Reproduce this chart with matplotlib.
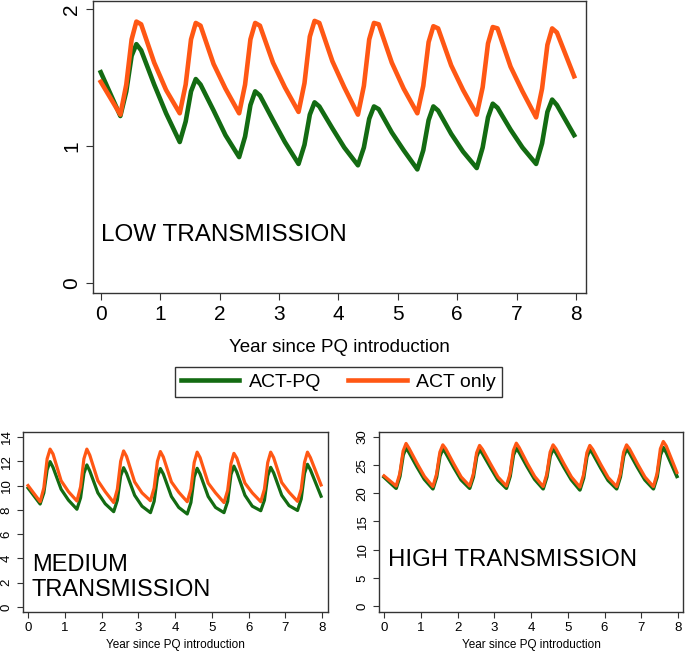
import matplotlib
matplotlib.use("Agg")
import matplotlib.pyplot as plt

plt.rcParams['font.family'] = ['Liberation Sans', 'DejaVu Sans']

# time points (years since PQ introduction)
t = [0.0,
     0.33, 0.43, 0.52, 0.60, 0.68, 0.90, 1.10,
     1.33, 1.43, 1.52, 1.60, 1.68, 1.90, 2.10,
     2.33, 2.43, 2.52, 2.60, 2.68, 2.90, 3.10,
     3.33, 3.43, 3.52, 3.60, 3.68, 3.90, 4.10,
     4.33, 4.43, 4.52, 4.60, 4.68, 4.90, 5.10,
     5.33, 5.43, 5.52, 5.60, 5.68, 5.90, 6.10,
     6.33, 6.43, 6.52, 6.60, 6.68, 6.90, 7.10,
     7.33, 7.43, 7.52, 7.60, 7.68, 7.97]

# low transmission
low_pq = [1.54,
          1.22, 1.40, 1.66, 1.745, 1.70, 1.45, 1.24,
          1.03, 1.18, 1.40, 1.49, 1.45, 1.26, 1.08,
          0.92, 1.07, 1.30, 1.40, 1.37, 1.19, 1.03,
          0.87, 1.01, 1.23, 1.32, 1.29, 1.13, 0.99,
          0.86, 0.99, 1.20, 1.29, 1.27, 1.10, 0.97,
          0.83, 0.97, 1.19, 1.29, 1.26, 1.09, 0.96,
          0.84, 0.99, 1.21, 1.31, 1.28, 1.12, 0.99,
          0.87, 1.02, 1.25, 1.34, 1.30, 1.08]
low_act = [1.47,
           1.23, 1.45, 1.78, 1.91, 1.89, 1.61, 1.41,
           1.24, 1.45, 1.78, 1.90, 1.88, 1.60, 1.42,
           1.24, 1.45, 1.78, 1.90, 1.88, 1.61, 1.43,
           1.25, 1.46, 1.80, 1.915, 1.90, 1.62, 1.43,
           1.23, 1.44, 1.78, 1.90, 1.89, 1.61, 1.42,
           1.24, 1.44, 1.76, 1.876, 1.86, 1.59, 1.41,
           1.23, 1.43, 1.75, 1.87, 1.86, 1.58, 1.40,
           1.21, 1.42, 1.74, 1.86, 1.83, 1.51]

# medium transmission
med_pq = [9.8,
          8.48, 9.4, 11.3, 11.97, 11.5, 9.7, 8.8,
          8.05, 9.0, 11.0, 11.7, 11.2, 9.4, 8.5,
          7.85, 8.8, 10.8, 11.47, 11.0, 9.2, 8.3,
          7.77, 8.7, 10.7, 11.4, 10.95, 9.1, 8.2,
          7.66, 8.6, 10.7, 11.42, 10.95, 9.1, 8.2,
          7.77, 8.7, 10.9, 11.6, 11.1, 9.2, 8.3,
          7.93, 8.8, 10.8, 11.5, 11.05, 9.2, 8.35,
          7.95, 8.9, 11.0, 11.75, 11.3, 9.12]
med_act = [10.0,
           8.67, 9.8, 12.2, 13.0, 12.6, 10.4, 9.5,
           8.73, 9.9, 12.2, 13.0, 12.5, 10.4, 9.5,
           8.6, 9.7, 12.0, 12.85, 12.4, 10.3, 9.4,
           8.75, 9.8, 12.0, 12.8, 12.35, 10.3, 9.45,
           8.67, 9.7, 11.9, 12.75, 12.3, 10.2, 9.4,
           8.6, 9.6, 11.8, 12.65, 12.25, 10.2, 9.4,
           8.67, 9.7, 11.9, 12.75, 12.3, 10.25, 9.45,
           8.7, 9.7, 11.9, 12.75, 12.3, 10.05]

# high transmission
high_pq = [22.9,
           20.9, 23.0, 26.8, 28.1, 27.3, 24.7, 22.5,
           20.8, 22.9, 26.6, 27.9, 27.2, 24.6, 22.4,
           20.9, 22.9, 26.5, 27.8, 27.1, 24.6, 22.4,
           20.9, 23.0, 26.8, 28.0, 27.3, 24.7, 22.5,
           20.8, 22.9, 26.6, 27.9, 27.2, 24.6, 22.4,
           20.6, 22.7, 26.5, 27.8, 27.1, 24.5, 22.3,
           20.8, 22.9, 26.6, 27.9, 27.2, 24.6, 22.4,
           20.8, 22.9, 26.8, 28.1, 27.3, 23.0]
high_act = [23.1,
            21.3, 23.5, 27.5, 28.85, 28.0, 25.3, 23.0,
            21.2, 23.4, 27.3, 28.6, 27.9, 25.2, 22.9,
            21.3, 23.4, 27.2, 28.5, 27.8, 25.2, 22.9,
            21.3, 23.5, 27.6, 28.9, 28.1, 25.3, 23.0,
            21.2, 23.4, 27.3, 28.6, 27.9, 25.2, 22.9,
            21.1, 23.3, 27.2, 28.5, 27.8, 25.1, 22.8,
            21.2, 23.4, 27.3, 28.6, 27.9, 25.2, 22.9,
            21.2, 23.5, 27.9, 29.2, 28.4, 23.7]

GREEN = '#136b12'
ORANGE = '#ff5714'

fig = plt.figure(figsize=(6.85, 6.51), dpi=100)

ax_low = fig.add_axes([0.1358, 0.5499, 0.7197, 0.4485])
ax_med = fig.add_axes([0.0336, 0.0599, 0.4453, 0.2765])
ax_high = fig.add_axes([0.5533, 0.0599, 0.4438, 0.2765])


def style(ax, yticks, fs_tick, fs_lab, ticklen):
    ax.set_xticks(range(0, 9))
    ax.set_yticks(yticks)
    ax.set_yticklabels([str(v) for v in yticks], rotation=90, va='center')
    ax.tick_params(direction='out', length=ticklen, width=0.8, labelsize=fs_tick,
                   colors='#333333', labelcolor='black')
    ax.set_xlabel('Year since PQ introduction', fontsize=fs_lab)
    for s in ax.spines.values():
        s.set_color('#333333')
        s.set_linewidth(1.0)


ln1, = ax_low.plot(t, low_pq, color=GREEN, lw=3.3, solid_joinstyle='round')
ln2, = ax_low.plot(t, low_act, color=ORANGE, lw=3.3, solid_joinstyle='round')
ax_low.set_xlim(-0.13, 8.17)
ax_low.set_ylim(-0.073, 2.06)
style(ax_low, [0, 1, 2], 15, 13.5, 5)
ax_low.xaxis.labelpad = 11
ax_low.text(0.0, 0.31, 'LOW TRANSMISSION', fontsize=17.5)

ax_med.plot(t, med_pq, color=GREEN, lw=2.3, solid_joinstyle='round')
ax_med.plot(t, med_act, color=ORANGE, lw=2.3, solid_joinstyle='round')
ax_med.set_xlim(-0.136, 8.16)
ax_med.set_ylim(-0.41, 14.41)
style(ax_med, [0, 2, 4, 6, 8, 10, 12, 14], 9.5, 8.5, 4)
ax_med.xaxis.labelpad = 3
ax_med.text(0.1, 0.9, 'MEDIUM\nTRANSMISSION', fontsize=17, linespacing=1.2)

ax_high.plot(t, high_pq, color=GREEN, lw=2.6, solid_joinstyle='round')
ax_high.plot(t, high_act, color=ORANGE, lw=2.3, solid_joinstyle='round')
ax_high.set_xlim(-0.136, 8.136)
ax_high.set_ylim(-1.06, 30.88)
style(ax_high, [0, 5, 10, 15, 20, 25, 30], 9.5, 8.5, 4)
ax_high.xaxis.labelpad = 3
ax_high.text(0.12, 7.06, 'HIGH TRANSMISSION', fontsize=17.3)

leg = fig.legend([ln1, ln2], ['ACT-PQ', 'ACT only'], loc='center',
                 bbox_to_anchor=(0.494, 0.413), ncol=2, fontsize=14,
                 fancybox=False, edgecolor='#333333', framealpha=1,
                 handlelength=3.0, handletextpad=0.5, columnspacing=1.4,
                 borderpad=0.3)
leg.get_frame().set_linewidth(1.0)
for h in leg.legend_handles:
    h.set_linewidth(3.3)

fig.savefig('out.png', dpi=100)
